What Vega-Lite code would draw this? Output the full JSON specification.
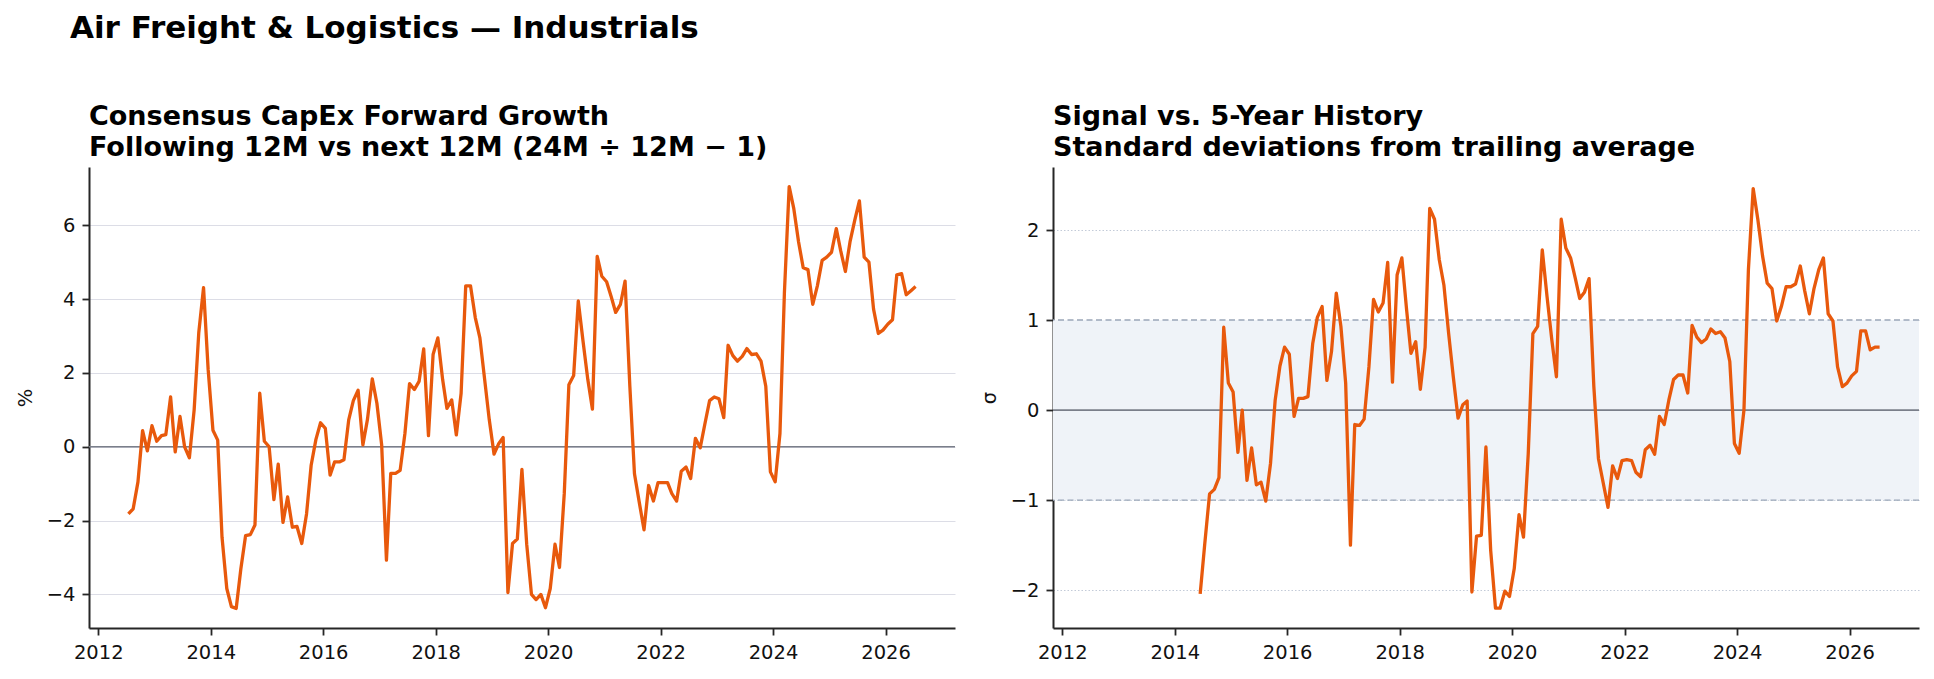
{
  "$schema": "https://vega.github.io/schema/vega-lite/v6.json",
  "background": "white",
  "padding": {"left": 15, "top": 13, "right": 5, "bottom": 5},
  "bounds": "flush",
  "spacing": 98,
  "title": {
    "text": "Air Freight & Logistics — Industrials",
    "anchor": "start",
    "frame": "group",
    "font": "DejaVu Sans",
    "fontSize": 31,
    "fontWeight": "bold",
    "color": "#000000",
    "dx": -19,
    "dy": 6,
    "offset": 64
  },
  "config": {
    "font": "DejaVu Sans",
    "view": {"stroke": null},
    "axis": {
      "labelFont": "DejaVu Sans",
      "labelFontSize": 19.5,
      "labelColor": "#111111",
      "labelFlush": false,
      "domainColor": "#262626",
      "domainWidth": 2,
      "tickColor": "#262626",
      "tickWidth": 1.8,
      "tickSize": 7,
      "labelPadding": 7,
      "titleFont": "DejaVu Sans",
      "titleFontSize": 19.5,
      "titleFontWeight": "normal",
      "titleColor": "#111111"
    }
  },
  "datasets": {
    "monthly": [
      {"date": "2012-07-15", "growth": -1.82, "sigma": null},
      {"date": "2012-08-15", "growth": -1.68, "sigma": null},
      {"date": "2012-09-15", "growth": -0.95, "sigma": null},
      {"date": "2012-10-15", "growth": 0.44, "sigma": null},
      {"date": "2012-11-15", "growth": -0.11, "sigma": null},
      {"date": "2012-12-15", "growth": 0.57, "sigma": null},
      {"date": "2013-01-15", "growth": 0.15, "sigma": null},
      {"date": "2013-02-15", "growth": 0.30, "sigma": null},
      {"date": "2013-03-15", "growth": 0.33, "sigma": null},
      {"date": "2013-04-15", "growth": 1.35, "sigma": null},
      {"date": "2013-05-15", "growth": -0.14, "sigma": null},
      {"date": "2013-06-15", "growth": 0.82, "sigma": null},
      {"date": "2013-07-15", "growth": 0.00, "sigma": null},
      {"date": "2013-08-15", "growth": -0.30, "sigma": null},
      {"date": "2013-09-15", "growth": 1.00, "sigma": null},
      {"date": "2013-10-15", "growth": 3.09, "sigma": null},
      {"date": "2013-11-15", "growth": 4.31, "sigma": null},
      {"date": "2013-12-15", "growth": 2.09, "sigma": null},
      {"date": "2014-01-15", "growth": 0.45, "sigma": null},
      {"date": "2014-02-15", "growth": 0.18, "sigma": null},
      {"date": "2014-03-15", "growth": -2.45, "sigma": null},
      {"date": "2014-04-15", "growth": -3.84, "sigma": null},
      {"date": "2014-05-15", "growth": -4.33, "sigma": null},
      {"date": "2014-06-15", "growth": -4.38, "sigma": -2.04},
      {"date": "2014-07-15", "growth": -3.32, "sigma": -1.48},
      {"date": "2014-08-15", "growth": -2.41, "sigma": -0.93},
      {"date": "2014-09-15", "growth": -2.38, "sigma": -0.88},
      {"date": "2014-10-15", "growth": -2.12, "sigma": -0.75},
      {"date": "2014-11-15", "growth": 1.45, "sigma": 0.92},
      {"date": "2014-12-15", "growth": 0.15, "sigma": 0.30},
      {"date": "2015-01-15", "growth": 0.00, "sigma": 0.20},
      {"date": "2015-02-15", "growth": -1.43, "sigma": -0.47},
      {"date": "2015-03-15", "growth": -0.47, "sigma": 0.00},
      {"date": "2015-04-15", "growth": -2.05, "sigma": -0.78},
      {"date": "2015-05-15", "growth": -1.36, "sigma": -0.42},
      {"date": "2015-06-15", "growth": -2.18, "sigma": -0.83},
      {"date": "2015-07-15", "growth": -2.16, "sigma": -0.80},
      {"date": "2015-08-15", "growth": -2.62, "sigma": -1.01},
      {"date": "2015-09-15", "growth": -1.82, "sigma": -0.59},
      {"date": "2015-10-15", "growth": -0.50, "sigma": 0.11},
      {"date": "2015-11-15", "growth": 0.20, "sigma": 0.49},
      {"date": "2015-12-15", "growth": 0.65, "sigma": 0.70},
      {"date": "2016-01-15", "growth": 0.50, "sigma": 0.62},
      {"date": "2016-02-15", "growth": -0.77, "sigma": -0.07},
      {"date": "2016-03-15", "growth": -0.41, "sigma": 0.13},
      {"date": "2016-04-15", "growth": -0.41, "sigma": 0.13},
      {"date": "2016-05-15", "growth": -0.35, "sigma": 0.15},
      {"date": "2016-06-15", "growth": 0.73, "sigma": 0.74},
      {"date": "2016-07-15", "growth": 1.25, "sigma": 1.03},
      {"date": "2016-08-15", "growth": 1.53, "sigma": 1.15},
      {"date": "2016-09-15", "growth": 0.05, "sigma": 0.33},
      {"date": "2016-10-15", "growth": 0.75, "sigma": 0.65},
      {"date": "2016-11-15", "growth": 1.84, "sigma": 1.30},
      {"date": "2016-12-15", "growth": 1.18, "sigma": 0.93},
      {"date": "2017-01-15", "growth": 0.05, "sigma": 0.30},
      {"date": "2017-02-15", "growth": -3.07, "sigma": -1.50},
      {"date": "2017-03-15", "growth": -0.72, "sigma": -0.16},
      {"date": "2017-04-15", "growth": -0.72, "sigma": -0.17},
      {"date": "2017-05-15", "growth": -0.64, "sigma": -0.10},
      {"date": "2017-06-15", "growth": 0.36, "sigma": 0.48},
      {"date": "2017-07-15", "growth": 1.71, "sigma": 1.23},
      {"date": "2017-08-15", "growth": 1.55, "sigma": 1.09},
      {"date": "2017-09-15", "growth": 1.77, "sigma": 1.19},
      {"date": "2017-10-15", "growth": 2.65, "sigma": 1.64},
      {"date": "2017-11-15", "growth": 0.30, "sigma": 0.31},
      {"date": "2017-12-15", "growth": 2.50, "sigma": 1.50},
      {"date": "2018-01-15", "growth": 2.95, "sigma": 1.69},
      {"date": "2018-02-15", "growth": 1.82, "sigma": 1.11},
      {"date": "2018-03-15", "growth": 1.04, "sigma": 0.63},
      {"date": "2018-04-15", "growth": 1.27, "sigma": 0.76},
      {"date": "2018-05-15", "growth": 0.32, "sigma": 0.23},
      {"date": "2018-06-15", "growth": 1.45, "sigma": 0.70},
      {"date": "2018-07-15", "growth": 4.36, "sigma": 2.24},
      {"date": "2018-08-15", "growth": 4.36, "sigma": 2.12},
      {"date": "2018-09-15", "growth": 3.50, "sigma": 1.67},
      {"date": "2018-10-15", "growth": 2.95, "sigma": 1.39},
      {"date": "2018-11-15", "growth": 1.82, "sigma": 0.85},
      {"date": "2018-12-15", "growth": 0.73, "sigma": 0.37},
      {"date": "2019-01-15", "growth": -0.20, "sigma": -0.09},
      {"date": "2019-02-15", "growth": 0.09, "sigma": 0.06},
      {"date": "2019-03-15", "growth": 0.25, "sigma": 0.10},
      {"date": "2019-04-15", "growth": -3.95, "sigma": -2.02},
      {"date": "2019-05-15", "growth": -2.62, "sigma": -1.40},
      {"date": "2019-06-15", "growth": -2.50, "sigma": -1.39},
      {"date": "2019-07-15", "growth": -0.61, "sigma": -0.41},
      {"date": "2019-08-15", "growth": -2.64, "sigma": -1.56},
      {"date": "2019-09-15", "growth": -4.00, "sigma": -2.20},
      {"date": "2019-10-15", "growth": -4.14, "sigma": -2.20},
      {"date": "2019-11-15", "growth": -4.00, "sigma": -2.01},
      {"date": "2019-12-15", "growth": -4.36, "sigma": -2.07},
      {"date": "2020-01-15", "growth": -3.84, "sigma": -1.76},
      {"date": "2020-02-15", "growth": -2.64, "sigma": -1.16},
      {"date": "2020-03-15", "growth": -3.27, "sigma": -1.41},
      {"date": "2020-04-15", "growth": -1.27, "sigma": -0.48},
      {"date": "2020-05-15", "growth": 1.68, "sigma": 0.85},
      {"date": "2020-06-15", "growth": 1.93, "sigma": 0.93},
      {"date": "2020-07-15", "growth": 3.95, "sigma": 1.78},
      {"date": "2020-08-15", "growth": 2.86, "sigma": 1.26},
      {"date": "2020-09-15", "growth": 1.82, "sigma": 0.78},
      {"date": "2020-10-15", "growth": 1.02, "sigma": 0.37},
      {"date": "2020-11-15", "growth": 5.16, "sigma": 2.12},
      {"date": "2020-12-15", "growth": 4.62, "sigma": 1.80},
      {"date": "2021-01-15", "growth": 4.47, "sigma": 1.69},
      {"date": "2021-02-15", "growth": 4.05, "sigma": 1.46},
      {"date": "2021-03-15", "growth": 3.64, "sigma": 1.24},
      {"date": "2021-04-15", "growth": 3.86, "sigma": 1.31},
      {"date": "2021-05-15", "growth": 4.49, "sigma": 1.46},
      {"date": "2021-06-15", "growth": 1.64, "sigma": 0.26},
      {"date": "2021-07-15", "growth": -0.73, "sigma": -0.54},
      {"date": "2021-08-15", "growth": -1.50, "sigma": -0.81},
      {"date": "2021-09-15", "growth": -2.25, "sigma": -1.08},
      {"date": "2021-10-15", "growth": -1.05, "sigma": -0.62},
      {"date": "2021-11-15", "growth": -1.47, "sigma": -0.76},
      {"date": "2021-12-15", "growth": -0.97, "sigma": -0.56},
      {"date": "2022-01-15", "growth": -0.97, "sigma": -0.55},
      {"date": "2022-02-15", "growth": -0.97, "sigma": -0.56},
      {"date": "2022-03-15", "growth": -1.27, "sigma": -0.69},
      {"date": "2022-04-15", "growth": -1.47, "sigma": -0.74},
      {"date": "2022-05-15", "growth": -0.66, "sigma": -0.44},
      {"date": "2022-06-15", "growth": -0.55, "sigma": -0.39},
      {"date": "2022-07-15", "growth": -0.86, "sigma": -0.49},
      {"date": "2022-08-15", "growth": 0.23, "sigma": -0.07},
      {"date": "2022-09-15", "growth": -0.03, "sigma": -0.16},
      {"date": "2022-10-15", "growth": 0.61, "sigma": 0.11},
      {"date": "2022-11-15", "growth": 1.25, "sigma": 0.34},
      {"date": "2022-12-15", "growth": 1.35, "sigma": 0.39},
      {"date": "2023-01-15", "growth": 1.30, "sigma": 0.39},
      {"date": "2023-02-15", "growth": 0.79, "sigma": 0.19},
      {"date": "2023-03-15", "growth": 2.75, "sigma": 0.94},
      {"date": "2023-04-15", "growth": 2.47, "sigma": 0.81},
      {"date": "2023-05-15", "growth": 2.32, "sigma": 0.75},
      {"date": "2023-06-15", "growth": 2.45, "sigma": 0.79},
      {"date": "2023-07-15", "growth": 2.66, "sigma": 0.90},
      {"date": "2023-08-15", "growth": 2.50, "sigma": 0.85},
      {"date": "2023-09-15", "growth": 2.52, "sigma": 0.87},
      {"date": "2023-10-15", "growth": 2.32, "sigma": 0.80},
      {"date": "2023-11-15", "growth": 1.64, "sigma": 0.54},
      {"date": "2023-12-15", "growth": -0.68, "sigma": -0.37},
      {"date": "2024-01-15", "growth": -0.95, "sigma": -0.48},
      {"date": "2024-02-15", "growth": 0.36, "sigma": 0.00},
      {"date": "2024-03-15", "growth": 4.18, "sigma": 1.56},
      {"date": "2024-04-15", "growth": 7.05, "sigma": 2.46},
      {"date": "2024-05-15", "growth": 6.45, "sigma": 2.12},
      {"date": "2024-06-15", "growth": 5.55, "sigma": 1.71},
      {"date": "2024-07-15", "growth": 4.85, "sigma": 1.41},
      {"date": "2024-08-15", "growth": 4.80, "sigma": 1.35},
      {"date": "2024-09-15", "growth": 3.86, "sigma": 0.99},
      {"date": "2024-10-15", "growth": 4.36, "sigma": 1.15},
      {"date": "2024-11-15", "growth": 5.05, "sigma": 1.37},
      {"date": "2024-12-15", "growth": 5.14, "sigma": 1.37},
      {"date": "2025-01-15", "growth": 5.27, "sigma": 1.40},
      {"date": "2025-02-15", "growth": 5.91, "sigma": 1.60},
      {"date": "2025-03-15", "growth": 5.32, "sigma": 1.33},
      {"date": "2025-04-15", "growth": 4.75, "sigma": 1.07},
      {"date": "2025-05-15", "growth": 5.55, "sigma": 1.35},
      {"date": "2025-06-15", "growth": 6.14, "sigma": 1.56},
      {"date": "2025-07-15", "growth": 6.66, "sigma": 1.69},
      {"date": "2025-08-15", "growth": 5.14, "sigma": 1.07},
      {"date": "2025-09-15", "growth": 5.00, "sigma": 0.99},
      {"date": "2025-10-15", "growth": 3.73, "sigma": 0.48},
      {"date": "2025-11-15", "growth": 3.07, "sigma": 0.26},
      {"date": "2025-12-15", "growth": 3.16, "sigma": 0.30},
      {"date": "2026-01-15", "growth": 3.32, "sigma": 0.38},
      {"date": "2026-02-15", "growth": 3.44, "sigma": 0.43},
      {"date": "2026-03-15", "growth": 4.66, "sigma": 0.88},
      {"date": "2026-04-15", "growth": 4.69, "sigma": 0.88},
      {"date": "2026-05-15", "growth": 4.12, "sigma": 0.67},
      {"date": "2026-06-15", "growth": 4.23, "sigma": 0.70},
      {"date": "2026-07-15", "growth": 4.34, "sigma": 0.70}
    ]
  },
  "hconcat": [
    {
      "width": 866,
      "height": 461,
      "title": {
        "text": ["Consensus CapEx Forward Growth", "Following 12M vs next 12M (24M ÷ 12M − 1)"],
        "anchor": "start",
        "frame": "group",
        "font": "DejaVu Sans",
        "fontSize": 27,
        "fontWeight": "bold",
        "lineHeight": 31,
        "color": "#000000",
        "offset": 5
      },
      "layer": [
        {
          "data": {"values": [{"level": 0}]},
          "mark": {"type": "rule", "color": "#7a7f8a", "strokeWidth": 1.7},
          "encoding": {
            "y": {"field": "level", "type": "quantitative", "title": "%", "scale": {"domain": [-4.91, 7.58], "nice": false, "zero": false}}
          }
        },
        {
          "data": {"name": "monthly"},
          "mark": {"type": "line", "color": "#e8590c", "strokeWidth": 3.3, "strokeJoin": "round", "strokeCap": "butt"},
          "encoding": {
            "x": {
              "field": "date",
              "type": "temporal",
              "scale": {"type": "utc", "domain": [{"year": 2011, "month": 11, "date": 2, "utc": true}, {"year": 2027, "month": 3, "date": 28, "utc": true}]},
              "axis": {"format": "%Y", "tickCount": {"interval": "year", "step": 2}, "grid": false, "title": null, "labelPadding": 8}
            },
            "y": {
              "field": "growth",
              "type": "quantitative",
              "title": "%",
              "scale": {"domain": [-4.91, 7.58], "nice": false, "zero": false},
              "axis": {
                "values": [-4, -2, 0, 2, 4, 6],
                "format": ".0f",
                "grid": true,
                "gridColor": "#dcdde6",
                "gridWidth": 1,
                "titleAngle": -90,
                "titleBaseline": "alphabetic",
                "titleX": -58,
                "titleY": 230.5
              }
            }
          }
        }
      ]
    },
    {
      "width": 866,
      "height": 461,
      "title": {
        "text": ["Signal vs. 5-Year History", "Standard deviations from trailing average"],
        "anchor": "start",
        "frame": "group",
        "font": "DejaVu Sans",
        "fontSize": 27,
        "fontWeight": "bold",
        "lineHeight": 31,
        "color": "#000000",
        "offset": 5
      },
      "layer": [
        {
          "data": {"values": [{"lower": -1, "upper": 1}]},
          "mark": {"type": "rect", "color": "#eff3f8", "opacity": 1},
          "encoding": {
            "y": {"field": "lower", "type": "quantitative", "title": "σ", "scale": {"domain": [-2.42, 2.7], "nice": false, "zero": false}},
            "y2": {"field": "upper"}
          }
        },
        {
          "data": {"values": [{"level": -1}, {"level": 1}]},
          "mark": {"type": "rule", "color": "#9aa6b8", "strokeWidth": 1.4, "strokeDash": [6, 3.5]},
          "encoding": {
            "y": {"field": "level", "type": "quantitative", "title": "σ", "scale": {"domain": [-2.42, 2.7], "nice": false, "zero": false}}
          }
        },
        {
          "data": {"values": [{"level": 0}]},
          "mark": {"type": "rule", "color": "#7a7f8a", "strokeWidth": 1.7},
          "encoding": {
            "y": {"field": "level", "type": "quantitative", "title": "σ", "scale": {"domain": [-2.42, 2.7], "nice": false, "zero": false}}
          }
        },
        {
          "data": {"name": "monthly"},
          "mark": {"type": "line", "color": "#e8590c", "strokeWidth": 3.3, "strokeJoin": "round", "strokeCap": "butt"},
          "encoding": {
            "x": {
              "field": "date",
              "type": "temporal",
              "scale": {"type": "utc", "domain": [{"year": 2011, "month": 11, "date": 2, "utc": true}, {"year": 2027, "month": 3, "date": 28, "utc": true}]},
              "axis": {"format": "%Y", "tickCount": {"interval": "year", "step": 2}, "grid": false, "title": null, "labelPadding": 8}
            },
            "y": {
              "field": "sigma",
              "type": "quantitative",
              "title": "σ",
              "scale": {"domain": [-2.42, 2.7], "nice": false, "zero": false},
              "axis": {
                "values": [-2, -1, 0, 1, 2],
                "format": ".0f",
                "grid": true,
                "gridColor": "#c3cbd8",
                "gridWidth": 1,
                "gridDash": [1.5, 2],
                "titleAngle": -90,
                "titleBaseline": "alphabetic",
                "titleX": -58,
                "titleY": 230.5
              }
            }
          }
        }
      ]
    }
  ]
}
